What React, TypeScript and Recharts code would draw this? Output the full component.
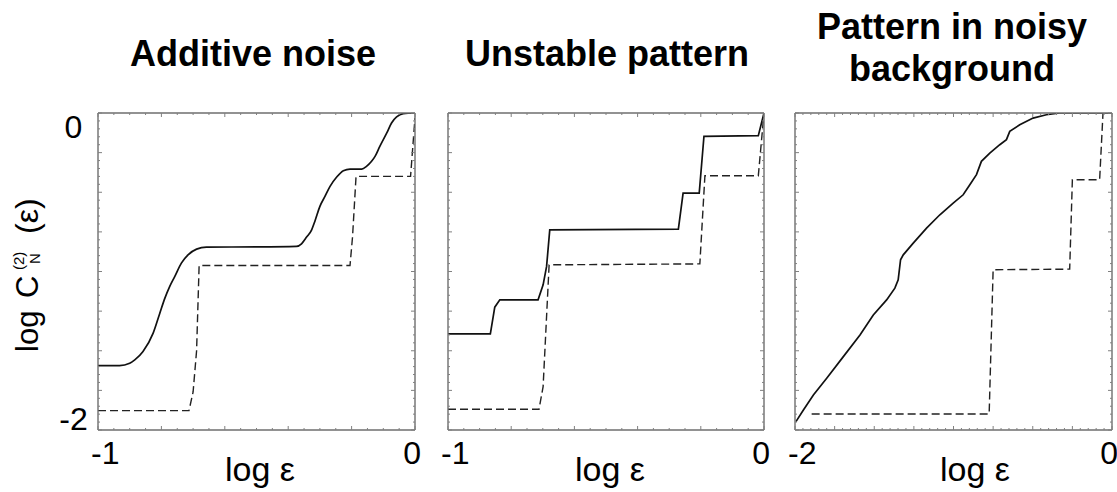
import React from "react";
import { Line, LineChart, XAxis, YAxis } from "recharts";

type Pt = [number, number];

const W = 1117;
const H = 492;
const BOX_TOP = 113;
const BOX_BOTTOM = 430;
const FONT = '"Liberation Sans", Arial, Helvetica, sans-serif';

// panel frames (pixel edges of each plot box)
const boxLeft = [98, 448, 795];
const boxRight = [415, 764, 1112];

const panelTitles = [["Additive noise"], ["Unstable pattern"], ["Pattern in noisy", "background"]];
const xDomains: Pt[] = [[-1, 0], [-1, 0], [-2, 0]];
const xMajorSteps = [0.2, 0.2, 0.25];
const xTickLabels = [["-1", "0"], ["-1", "0"], ["-2", "0"]];
const yDomain: Pt = [-2, 0];
const yTickLabels = ["-2", "0"];
const xTitle = "log ε";

// Additive noise
const additiveSolid: Pt[] = [
  [-1.0, -1.594], [-0.932, -1.594], [-0.9, -1.579], [-0.884, -1.558], [-0.858, -1.505],
  [-0.826, -1.389], [-0.805, -1.263], [-0.789, -1.168], [-0.774, -1.095], [-0.758, -1.032],
  [-0.737, -0.947], [-0.716, -0.895], [-0.689, -0.859], [-0.658, -0.846], [-0.5, -0.845],
  [-0.374, -0.842], [-0.358, -0.825], [-0.342, -0.783], [-0.326, -0.737], [-0.316, -0.684],
  [-0.3, -0.589], [-0.284, -0.526], [-0.268, -0.463], [-0.247, -0.404], [-0.226, -0.364],
  [-0.205, -0.354], [-0.168, -0.354], [-0.153, -0.337], [-0.137, -0.305], [-0.126, -0.274],
  [-0.111, -0.211], [-0.089, -0.126], [-0.074, -0.063], [-0.058, -0.025], [-0.037, -0.004],
  [0, 0],
];
const additiveDashed: Pt[] = [
  [-1, -1.878], [-0.713, -1.878], [-0.7, -1.76], [-0.689, -1.5], [-0.681, -0.962],
  [-0.205, -0.962], [-0.197, -0.78], [-0.186, -0.4], [-0.014, -0.4], [0, -0.03],
];

// Unstable pattern
const unstableSolid: Pt[] = [
  [-1, -1.394], [-0.866, -1.394], [-0.852, -1.225], [-0.836, -1.179], [-0.715, -1.179],
  [-0.699, -1.084], [-0.688, -0.968], [-0.678, -0.737], [-0.271, -0.733], [-0.256, -0.505],
  [-0.205, -0.505], [-0.19, -0.147], [-0.018, -0.143], [0, 0],
];
const unstableDashed: Pt[] = [
  [-1, -1.869], [-0.712, -1.869], [-0.699, -1.726], [-0.68, -0.958], [-0.203, -0.952],
  [-0.187, -0.396], [-0.018, -0.396], [0, 0],
];

// Pattern in noisy background
const noisySolid: Pt[] = [
  [-1.994, -1.947], [-1.947, -1.874], [-1.884, -1.779], [-1.8, -1.674], [-1.695, -1.537],
  [-1.59, -1.4], [-1.506, -1.274], [-1.422, -1.179], [-1.37, -1.105], [-1.349, -1.053],
  [-1.334, -0.926], [-1.317, -0.895], [-1.254, -0.821], [-1.17, -0.726], [-1.086, -0.642],
  [-1.002, -0.568], [-0.939, -0.516], [-0.897, -0.453], [-0.855, -0.389], [-0.824, -0.305],
  [-0.771, -0.253], [-0.708, -0.2], [-0.666, -0.168], [-0.645, -0.116], [-0.582, -0.074],
  [-0.498, -0.032], [-0.414, -0.011], [-0.33, 0], [0, 0],
];
const noisyDashed: Pt[] = [
  [-1.895, -1.899], [-0.775, -1.899], [-0.75, -0.989], [-0.267, -0.985], [-0.25, -0.421],
  [-0.078, -0.421], [-0.057, -0.004],
];

const solids = [additiveSolid, unstableSolid, noisySolid];
const dashes = [additiveDashed, unstableDashed, noisyDashed];
const solidCurve = ["monotone", "linear", "linear"] as const;

const MINOR = 0.05;
const Y_MAJOR = 0.25;
const frameStyle = { stroke: "#6e6e6e", strokeWidth: 1.4 };
const tickColor = "#808080";

function tickValues(lo: number, hi: number, step: number) {
  const n = Math.round((hi - lo) / step);
  const out: number[] = [];
  for (let i = 0; i <= n; i++) out.push(+(lo + i * step).toFixed(4));
  return out;
}

const isMajor = (v: number, lo: number, step: number) => {
  const k = (v - lo) / step;
  return Math.abs(k - Math.round(k)) < 1e-6;
};

function Panel({ idx }: { idx: number }) {
  const [lo, hi] = xDomains[idx];
  const xt = tickValues(lo, hi, MINOR);
  const yt = tickValues(yDomain[0], yDomain[1], MINOR);
  const solid = solids[idx].map(([x, y]) => ({ x, y }));
  const dashed = dashes[idx].map(([x, y]) => ({ x, y }));
  const majorX = xMajorSteps[idx];

  const bottomTick = (p: any) => {
    const v = p.payload.value;
    const len = isMajor(v, lo, majorX) ? 4 : 2;
    let label = null;
    if (Math.abs(v - lo) < 1e-6 || Math.abs(v - hi) < 1e-6) {
      const first = Math.abs(v - lo) < 1e-6;
      label = (
        <text
          x={p.x + (first ? -7 : 6)}
          y={p.y + 34}
          textAnchor={first ? "start" : "end"}
          fontSize={32}
          fontFamily={FONT}
          fill="#000"
        >
          {xTickLabels[idx][first ? 0 : 1]}
        </text>
      );
    }
    return (
      <g>
        <line x1={p.x} x2={p.x} y1={p.y} y2={p.y - len} stroke={tickColor} strokeWidth={1} />
        {label}
      </g>
    );
  };

  const topTick = (p: any) => {
    const len = isMajor(p.payload.value, lo, majorX) ? 4 : 2;
    return <line x1={p.x} x2={p.x} y1={p.y} y2={p.y + len} stroke={tickColor} strokeWidth={1} />;
  };

  const leftTick = (p: any) => {
    const v = p.payload.value;
    const len = isMajor(v, yDomain[0], Y_MAJOR) ? 4 : 2;
    let label = null;
    if (idx === 0 && (Math.abs(v - yDomain[0]) < 1e-6 || Math.abs(v - yDomain[1]) < 1e-6)) {
      const bottom = Math.abs(v - yDomain[0]) < 1e-6;
      label = (
        <text
          x={p.x - 24.5}
          y={p.y + (bottom ? 0 : 25)}
          textAnchor="middle"
          fontSize={32}
          fontFamily={FONT}
          fill="#000"
        >
          {yTickLabels[bottom ? 0 : 1]}
        </text>
      );
    }
    return (
      <g>
        <line x1={p.x} x2={p.x + len} y1={p.y} y2={p.y} stroke={tickColor} strokeWidth={1} />
        {label}
      </g>
    );
  };

  const rightTick = (p: any) => {
    const len = isMajor(p.payload.value, yDomain[0], Y_MAJOR) ? 4 : 2;
    return <line x1={p.x} x2={p.x - len} y1={p.y} y2={p.y} stroke={tickColor} strokeWidth={1} />;
  };

  // axes get a 1px band (a zero-sized axis is not drawn), so margins are trimmed by 1
  return (
    <div style={{ position: "absolute", left: 0, top: 0 }}>
      <LineChart
        width={W}
        height={H}
        margin={{
          top: BOX_TOP - 1,
          bottom: H - BOX_BOTTOM - 1,
          left: boxLeft[idx] - 1,
          right: W - boxRight[idx] - 1,
        }}
      >
        <XAxis
          xAxisId="b"
          dataKey="x"
          type="number"
          domain={[lo, hi]}
          ticks={xt}
          interval={0}
          height={1}
          tickSize={0}
          tickMargin={0}
          tickLine={false}
          axisLine={frameStyle}
          tick={bottomTick}
          allowDataOverflow
        />
        <XAxis
          xAxisId="t"
          orientation="top"
          dataKey="x"
          type="number"
          domain={[lo, hi]}
          ticks={xt}
          interval={0}
          height={1}
          tickSize={0}
          tickMargin={0}
          tickLine={false}
          axisLine={frameStyle}
          tick={topTick}
          allowDataOverflow
        />
        <YAxis
          yAxisId="l"
          type="number"
          domain={yDomain}
          ticks={yt}
          interval={0}
          width={1}
          tickSize={0}
          tickMargin={0}
          tickLine={false}
          axisLine={frameStyle}
          tick={leftTick}
          allowDataOverflow
        />
        <YAxis
          yAxisId="r"
          orientation="right"
          type="number"
          domain={yDomain}
          ticks={yt}
          interval={0}
          width={1}
          tickSize={0}
          tickMargin={0}
          tickLine={false}
          axisLine={frameStyle}
          tick={rightTick}
          allowDataOverflow
        />
        <Line
          xAxisId="b"
          yAxisId="l"
          data={dashed}
          dataKey="y"
          type="linear"
          stroke="#222"
          strokeWidth={1.4}
          strokeDasharray="8 4"
          dot={false}
          isAnimationActive={false}
        />
        <Line
          xAxisId="b"
          yAxisId="l"
          data={solid}
          dataKey="y"
          type={solidCurve[idx]}
          stroke="#111"
          strokeWidth={1.7}
          dot={false}
          isAnimationActive={false}
        />
      </LineChart>
    </div>
  );
}

const titleCenters = [253, 607, 952];
const xTitleCenters = [260, 610, 975];

export default function App() {
  return (
    <div
      style={{
        position: "absolute",
        left: 0,
        top: 0,
        width: W,
        height: H,
        background: "#fff",
        overflow: "hidden",
        fontFamily: FONT,
      }}
    >
      {[0, 1, 2].map((i) => (
        <Panel key={i} idx={i} />
      ))}
      <svg width={W} height={H} style={{ position: "absolute", left: 0, top: 0, pointerEvents: "none" }}>
        {panelTitles.map((lines, i) =>
          lines.length === 1 ? (
            <text key={i} x={titleCenters[i]} y={66} textAnchor="middle" fontSize={36} fontWeight="bold" fontFamily={FONT}>
              {lines[0]}
            </text>
          ) : (
            <text key={i} x={titleCenters[i]} textAnchor="middle" fontSize={36} fontWeight="bold" fontFamily={FONT}>
              <tspan x={titleCenters[i]} y={39}>{lines[0]}</tspan>
              <tspan x={titleCenters[i]} y={81}>{lines[1]}</tspan>
            </text>
          )
        )}
        {xTitleCenters.map((cx, i) => (
          <text key={i} x={cx} y={481} textAnchor="middle" fontSize={34} fontFamily={FONT}>
            {xTitle}
          </text>
        ))}
        <text transform="translate(38,352) rotate(-90)" fontFamily={FONT} fill="#000">
          <tspan x={0} y={0} fontSize={31}>log</tspan>
          <tspan x={54} y={0} fontSize={31}>C</tspan>
          <tspan x={82} y={-14} fontSize={15}>(2)</tspan>
          <tspan x={88} y={2} fontSize={15}>N</tspan>
          <tspan x={118} y={0} fontSize={32}>(ε)</tspan>
        </text>
      </svg>
    </div>
  );
}
